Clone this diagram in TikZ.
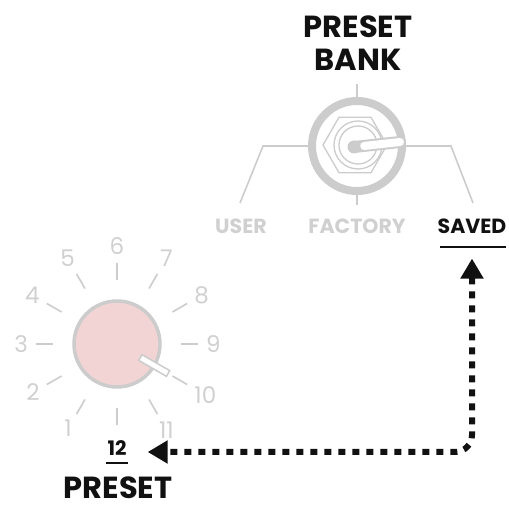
\documentclass[tikz,border=0pt]{standalone}
\usepackage{fontspec}
\setmainfont{Poppins}
\usetikzlibrary{arrows.meta,positioning,calc}
\definecolor{dialgray}{RGB}{204,204,204}
\definecolor{labelgray}{RGB}{208,208,208}
\definecolor{knobpink}{RGB}{242,212,212}
\definecolor{inkblack}{RGB}{17,17,17}

\begin{document}
\begin{tikzpicture}[x=1pt, y=1pt,
  rim/.style={draw=dialgray, line width=1.3pt},
  tickline/.style={draw=dialgray, line width=1.6pt},
  numlabel/.style={text=labelgray, font=\fontsize{23}{23}\selectfont, inner sep=1pt},
  banklabel/.style={text=labelgray, font=\bfseries\fontsize{20.5}{20.5}\selectfont, inner sep=1pt},
  title/.style={text=inkblack, font=\bfseries\fontsize{30.5}{33}\selectfont, inner sep=0pt},
  uline/.style={draw=inkblack, line width=2pt},
  dasharrow/.style={draw=inkblack, line width=6pt, dash pattern=on 7pt off 7pt, rounded corners=17pt,
    {Triangle[length=20pt,width=22pt]}-{Triangle[length=20pt,width=22pt]}}
]
\useasboundingbox (0,0) rectangle (509,509);

% preset bank toggle
\node[title, align=center] (banktitle) at (358,466) {PRESET\\BANK};
\node[circle, draw=dialgray, fill=white, line width=8pt, minimum size=90pt] (toggle) at (357,363) {};
\draw[tickline] (toggle.north) -- ++(0,13);
\draw[tickline] (toggle.south) -- ++(0,-10);
\draw[tickline] (toggle.west) -- ++(-45,0) -- (240,306);
\draw[tickline] (toggle.east) -- ++(45,0) -- (473,306);
\draw[rim] (355,364) +(0:32) -- +(60:32) -- +(120:32) -- +(180:32) -- +(240:32) -- +(300:32) -- cycle;
\draw[rim] (358,364) circle (24);
\draw[rim] (358,364) circle (19);
\draw[dialgray, line width=12pt, line cap=round] (354,362) -- (400,367);
\draw[white, line width=8pt, line cap=round] (364,363) -- (400,367);
\fill[dialgray] (354,362) circle (6.5);

\node[banklabel] (user) at (241,283) {USER};
\node[banklabel] (factory) at (357,283) {FACTORY};
\node[banklabel, text=inkblack] (saved) at (472,283) {SAVED};
\draw[uline] (440,262) -- (506,262);

% preset dial
\node[circle, draw=dialgray, fill=knobpink, line width=3.5pt, minimum size=86pt] (dial) at (117,165) {};
\foreach \n in {1,...,12}{
  \pgfmathsetmacro\ang{270-30*\n}
  \draw[tickline] ($(dial.center)+(\ang:64)$) -- ($(dial.center)+(\ang:81)$);
}
\foreach \n in {1,...,11}{
  \pgfmathsetmacro\ang{270-30*\n}
  \node[numlabel, anchor=\ang+180] (num\n) at ($(dial.center)+(\ang:88)$) {\n};
}
\begin{scope}[shift={(dial.center)}, rotate=-30]
  \draw[draw=dialgray, fill=white, line width=1.5pt] (27,-3.3) rectangle (59,3.3);
\end{scope}
\node[text=inkblack, font=\bfseries\fontsize{20}{20}\selectfont, inner sep=1pt] (num12) at (117,61) {12};
\draw[uline] (106,46) -- (128,46);
\node[title, anchor=base] (presettitle) at (118,10) {PRESET};

% link saved -> 12
\draw[dasharrow] ([yshift=-24pt]saved.south) |- ([xshift=20pt,yshift=-4pt]num12.east);
\end{tikzpicture}
\end{document}
